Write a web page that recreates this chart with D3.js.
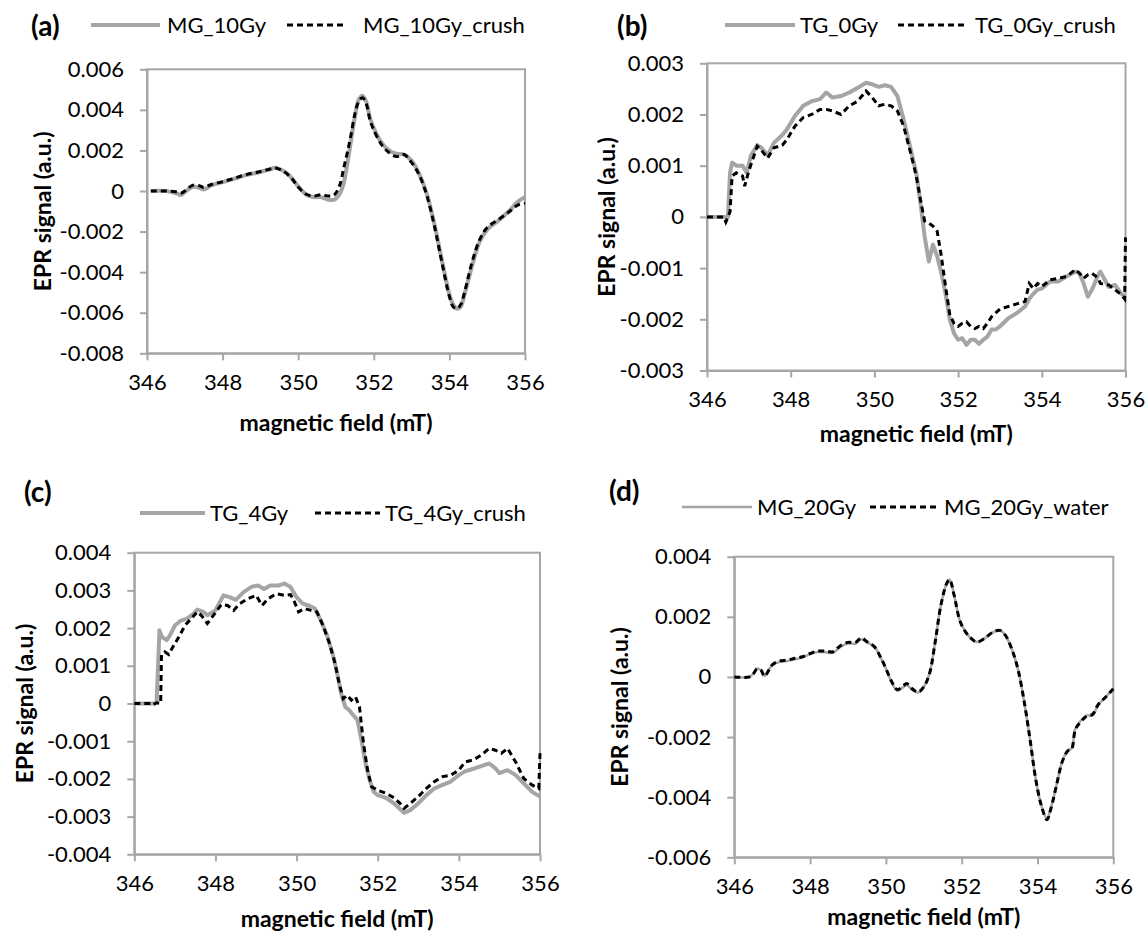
<!DOCTYPE html>
<html lang="en">
<head>
<meta charset="utf-8" />
<title>EPR spectra – crushed / water treated samples</title>
<script src="https://cdn.jsdelivr.net/npm/d3@7"></script>
<style>
  body { margin: 0; background: #fff; }
  svg  { display: block; }
  text { font-family: Lato, "Open Sans", sans-serif; fill: #000; }
  .frame { fill: none; stroke: #a6a6a6; stroke-width: 2; }
  .axis path, .axis line { stroke: #a6a6a6; stroke-width: 2; }
  .axis text { font-size: 22px; }
  .ttl { font-size: 23px; font-weight: bold; }
  .letter { font-size: 28px; font-weight: bold; }
  .leg { font-size: 22px; }
  .gray { fill: none; stroke: #a5a5a5; stroke-linejoin: round; }
  .dash { fill: none; stroke: #000; stroke-width: 3; stroke-dasharray: 6 4; }
</style>
</head>
<body>
<svg id="fig" width="1145" height="935"></svg>
<script>
// ---- data: [field (mT), EPR signal (a.u.)] ----
const mg10Gy = [[346.1,0],[346.5,0],[346.8,-0.00013],[346.9,-0.0002],[347.0,-0.00005],[347.2,0.0002],[347.4,0.00015],[347.5,0.00007],[347.7,0.00028],[348.0,0.00044],[348.3,0.0006],[348.6,0.00077],[349.0,0.00094],[349.3,0.0011],[349.4,0.00115],[349.6,0.001],[349.8,0.0007],[350.0,0.00023],[350.2,-0.00016],[350.4,-0.0003],[350.6,-0.0003],[350.8,-0.00043],[350.95,-0.00043],[351.1,-0.00013],[351.2,0.00036],[351.3,0.00135],[351.4,0.0025],[351.5,0.00365],[351.6,0.0045],[351.7,0.0047],[351.8,0.0044],[351.9,0.0036],[352.0,0.0031],[352.2,0.0024],[352.4,0.002],[352.6,0.00184],[352.8,0.0018],[353.0,0.0015],[353.2,0.00085],[353.4,-0.00013],[353.6,-0.0016],[353.8,-0.0034],[354.0,-0.0051],[354.1,-0.0056],[354.2,-0.0058],[354.3,-0.0057],[354.4,-0.0051],[354.6,-0.0037],[354.8,-0.0025],[355.0,-0.0019],[355.3,-0.00145],[355.6,-0.00095],[355.8,-0.00054],[356.0,-0.0003]];
const mg10GyCrush = [[346.1,0],[346.5,0],[346.8,-0.00005],[346.9,-0.0001],[347.0,0],[347.2,0.00028],[347.4,0.00025],[347.5,0.00018],[347.7,0.00032],[348.0,0.00046],[348.3,0.00062],[348.6,0.0008],[349.0,0.00096],[349.3,0.0011],[349.4,0.00113],[349.6,0.00098],[349.8,0.00068],[350.0,0.0002],[350.2,-0.00015],[350.4,-0.00025],[350.6,-0.00018],[350.8,-0.00025],[350.95,-0.0002],[351.1,0.0003],[351.2,0.0011],[351.3,0.0019],[351.4,0.0028],[351.5,0.0038],[351.6,0.0044],[351.7,0.0046],[351.8,0.0043],[351.9,0.0035],[352.0,0.003],[352.2,0.0023],[352.4,0.0019],[352.6,0.0017],[352.8,0.0018],[353.0,0.0014],[353.2,0.0008],[353.4,-0.0002],[353.6,-0.0017],[353.8,-0.0035],[354.0,-0.0052],[354.1,-0.0057],[354.2,-0.0058],[354.3,-0.0056],[354.4,-0.005],[354.6,-0.0035],[354.8,-0.0024],[355.0,-0.0018],[355.3,-0.0014],[355.6,-0.001],[355.8,-0.0007],[356.0,-0.0006]];

const tg0Gy = [[346.0,0],[346.5,0],[346.55,0.00086],[346.6,0.00106],[346.7,0.001],[346.85,0.001],[346.95,0.00086],[347.05,0.0012],[347.2,0.0014],[347.3,0.00135],[347.45,0.0012],[347.6,0.00145],[347.8,0.0016],[347.9,0.0017],[348.1,0.00197],[348.3,0.00217],[348.5,0.00226],[348.7,0.0023],[348.85,0.00243],[349.0,0.00233],[349.2,0.00236],[349.4,0.00243],[349.6,0.00252],[349.8,0.00262],[349.95,0.00259],[350.1,0.00254],[350.25,0.00257],[350.4,0.00254],[350.55,0.00236],[350.7,0.0019],[350.85,0.00138],[351.0,0.00086],[351.1,0.00027],[351.2,-0.00038],[351.3,-0.00087],[351.4,-0.00054],[351.5,-0.00077],[351.6,-0.0011],[351.7,-0.0015],[351.8,-0.002],[351.9,-0.00227],[352.0,-0.0024],[352.1,-0.00237],[352.2,-0.0025],[352.3,-0.0024],[352.4,-0.0024],[352.5,-0.00248],[352.6,-0.0024],[352.7,-0.00234],[352.8,-0.0022],[352.9,-0.0022],[353.0,-0.00214],[353.2,-0.00198],[353.4,-0.00188],[353.6,-0.00175],[353.7,-0.0016],[353.8,-0.0015],[353.9,-0.00142],[354.0,-0.0014],[354.2,-0.00126],[354.4,-0.00126],[354.6,-0.00116],[354.8,-0.00107],[354.9,-0.0011],[355.0,-0.0013],[355.1,-0.00156],[355.2,-0.00142],[355.35,-0.00113],[355.4,-0.00107],[355.6,-0.00137],[355.75,-0.00133],[355.9,-0.0015],[356.0,-0.00156]];
const tg0GyCrush = [[346.0,0],[346.4,0],[346.45,-0.0001],[346.55,0.0001],[346.6,0.0008],[346.7,0.00086],[346.85,0.0008],[346.9,0.0006],[347.0,0.0009],[347.2,0.00138],[347.3,0.0013],[347.45,0.00115],[347.6,0.00135],[347.8,0.0014],[347.9,0.0015],[348.1,0.00177],[348.3,0.00194],[348.5,0.002],[348.7,0.0021],[348.85,0.0021],[349.0,0.00207],[349.2,0.002],[349.4,0.00217],[349.6,0.00226],[349.8,0.00246],[349.95,0.00233],[350.1,0.00217],[350.25,0.0022],[350.4,0.00217],[350.55,0.00207],[350.7,0.00177],[350.85,0.0013],[351.0,0.0008],[351.1,0.00034],[351.2,-0.00008],[351.3,-0.00012],[351.4,-0.00018],[351.5,-0.00028],[351.6,-0.00077],[351.7,-0.00136],[351.8,-0.0019],[351.9,-0.00208],[352.0,-0.00214],[352.1,-0.00208],[352.2,-0.00205],[352.3,-0.00214],[352.4,-0.00218],[352.5,-0.00214],[352.6,-0.00218],[352.7,-0.00208],[352.8,-0.00195],[353.0,-0.0018],[353.2,-0.00175],[353.4,-0.0017],[353.6,-0.00165],[353.7,-0.0013],[353.8,-0.0014],[353.9,-0.0013],[354.0,-0.00136],[354.2,-0.00123],[354.4,-0.0012],[354.6,-0.00116],[354.8,-0.00103],[354.9,-0.0011],[355.0,-0.0012],[355.1,-0.00113],[355.2,-0.0011],[355.35,-0.0012],[355.4,-0.0013],[355.6,-0.00133],[355.75,-0.00142],[355.9,-0.00152],[355.98,-0.0016],[356.0,-0.0004]];

const tg4Gy = [[346.0,0],[346.5,0],[346.55,0.00004],[346.62,0.00194],[346.68,0.00177],[346.8,0.00168],[346.9,0.00185],[347.0,0.00207],[347.15,0.0022],[347.3,0.00225],[347.45,0.00237],[347.55,0.00249],[347.7,0.00243],[347.8,0.00234],[348.0,0.00247],[348.2,0.00287],[348.35,0.00282],[348.5,0.00275],[348.7,0.00296],[348.9,0.0031],[349.05,0.00313],[349.2,0.00304],[349.35,0.00313],[349.55,0.00313],[349.7,0.00318],[349.85,0.00309],[350.0,0.00282],[350.15,0.00265],[350.3,0.0026],[350.45,0.00252],[350.6,0.0022],[350.75,0.00181],[350.9,0.00128],[351.0,0.0008],[351.1,0.00026],[351.2,-0.00009],[351.3,-0.00018],[351.4,-0.00031],[351.5,-0.00044],[351.6,-0.00097],[351.7,-0.00159],[351.8,-0.00203],[351.9,-0.00234],[352.0,-0.00243],[352.2,-0.0025],[352.4,-0.00265],[352.55,-0.0028],[352.65,-0.0029],[352.8,-0.00283],[353.0,-0.00265],[353.2,-0.00243],[353.4,-0.00225],[353.6,-0.00216],[353.8,-0.00207],[354.0,-0.0019],[354.15,-0.0018],[354.3,-0.00175],[354.5,-0.00168],[354.75,-0.00159],[354.9,-0.00172],[355.0,-0.00185],[355.2,-0.00177],[355.4,-0.0019],[355.6,-0.00212],[355.8,-0.00234],[356.0,-0.00247]];
const tg4GyCrush = [[346.0,0],[346.4,0],[346.45,-0.00004],[346.55,0.00002],[346.65,0],[346.67,0.0013],[346.75,0.00137],[346.85,0.0013],[346.95,0.0015],[347.1,0.00177],[347.25,0.00207],[347.4,0.00225],[347.55,0.00243],[347.65,0.00234],[347.8,0.00212],[347.95,0.00234],[348.15,0.00263],[348.3,0.0026],[348.45,0.00247],[348.6,0.00265],[348.8,0.00278],[349.0,0.00287],[349.15,0.0026],[349.3,0.00278],[349.5,0.00291],[349.7,0.00287],[349.85,0.00289],[349.95,0.00269],[350.05,0.00243],[350.2,0.00252],[350.35,0.00247],[350.5,0.00243],[350.65,0.00207],[350.8,0.00163],[350.95,0.00106],[351.05,0.00053],[351.15,0.00013],[351.25,0.00022],[351.35,0.00009],[351.45,0.00018],[351.55,-0.00009],[351.65,-0.00106],[351.75,-0.00177],[351.85,-0.00221],[352.0,-0.0023],[352.2,-0.00238],[352.4,-0.0025],[352.55,-0.00265],[352.65,-0.00278],[352.8,-0.00265],[353.0,-0.00247],[353.2,-0.00225],[353.4,-0.00207],[353.6,-0.00194],[353.8,-0.0019],[354.0,-0.00177],[354.15,-0.00155],[354.35,-0.0015],[354.55,-0.00137],[354.75,-0.00119],[354.9,-0.00124],[355.05,-0.00132],[355.2,-0.00119],[355.4,-0.00155],[355.6,-0.00199],[355.8,-0.00216],[355.97,-0.00225],[356.0,-0.00132]];

const mg20Gy = [[346.0,0],[346.4,0],[346.5,0.00011],[346.6,0.00028],[346.7,0.00022],[346.8,0.00003],[346.9,0.00022],[347.0,0.00039],[347.2,0.0005],[347.4,0.00053],[347.6,0.00059],[347.8,0.00065],[348.0,0.00076],[348.2,0.00083],[348.4,0.00082],[348.6,0.0008],[348.8,0.001],[349.0,0.00111],[349.2,0.00111],[349.35,0.00125],[349.5,0.00115],[349.7,0.001],[349.85,0.00067],[350.0,0.00028],[350.15,-0.00017],[350.3,-0.00046],[350.45,-0.00035],[350.55,-0.00028],[350.7,-0.00043],[350.85,-0.00052],[351.0,-0.00033],[351.15,0.00011],[351.3,0.00116],[351.45,0.00238],[351.6,0.0031],[351.68,0.00324],[351.8,0.00272],[351.95,0.00188],[352.1,0.0015],[352.25,0.00128],[352.4,0.00116],[352.6,0.00128],[352.8,0.00147],[353.0,0.00155],[353.15,0.00139],[353.35,0.00083],[353.5,0.00017],[353.65,-0.00083],[353.8,-0.00205],[353.95,-0.00338],[354.1,-0.00427],[354.25,-0.00471],[354.35,-0.00438],[354.5,-0.00361],[354.65,-0.00283],[354.8,-0.00244],[354.9,-0.00238],[355.0,-0.00172],[355.15,-0.00144],[355.3,-0.00128],[355.45,-0.00128],[355.6,-0.00094],[355.8,-0.00067],[356.0,-0.00039]];
const mg20GyWater = [[346.0,0],[346.4,0],[346.5,0.0001],[346.6,0.00026],[346.7,0.00023],[346.8,0.00002],[346.9,0.0002],[347.0,0.0004],[347.2,0.00053],[347.4,0.00056],[347.6,0.00062],[347.8,0.00067],[348.0,0.00078],[348.2,0.00086],[348.4,0.00086],[348.6,0.00084],[348.8,0.00104],[349.0,0.00115],[349.2,0.00115],[349.35,0.0013],[349.5,0.00117],[349.7,0.001],[349.85,0.00068],[350.0,0.00028],[350.15,-0.00015],[350.3,-0.00042],[350.45,-0.0003],[350.55,-0.00022],[350.7,-0.0004],[350.85,-0.0005],[351.0,-0.00033],[351.15,0.00011],[351.3,0.00116],[351.45,0.00238],[351.6,0.0031],[351.68,0.00324],[351.8,0.00272],[351.95,0.00188],[352.1,0.0015],[352.25,0.00128],[352.4,0.00116],[352.6,0.00128],[352.8,0.00147],[353.0,0.00155],[353.15,0.00139],[353.35,0.00083],[353.5,0.00017],[353.65,-0.00083],[353.8,-0.00205],[353.95,-0.00338],[354.1,-0.00427],[354.25,-0.00475],[354.35,-0.0044],[354.5,-0.00361],[354.65,-0.00283],[354.8,-0.00246],[354.9,-0.0024],[355.0,-0.00175],[355.15,-0.00148],[355.3,-0.0013],[355.45,-0.00125],[355.6,-0.00092],[355.8,-0.00067],[356.0,-0.00039]];

const xTicks = [346, 348, 350, 352, 354, 356];

// ---- layout for the four panels ----
const panels = [
  { letter: "(a)", lx: 31, ly: 36,
    box: { l: 147, r: 525, t: 69.3, b: 353.3 },
    yTicks: [-8, -6, -4, -2, 0, 2, 4, 6], curve: d3.curveCatmullRom, grayW: 4,
    names: ["MG_10Gy", "MG_10Gy_crush"], series: [mg10Gy, mg10GyCrush],
    leg: { y: 25, ty: 33, g: [91, 160], gt: 167, d: [287, 347], dt: 363 },
    yTitleX: 43, xTitleY: 423 },
  { letter: "(b)", lx: 617, ly: 36,
    box: { l: 707, r: 1125.5, t: 63.3, b: 370.5 },
    yTicks: [-3, -2, -1, 0, 1, 2, 3], curve: d3.curveLinear, grayW: 4,
    names: ["TG_0Gy", "TG_0Gy_crush"], series: [tg0Gy, tg0GyCrush],
    leg: { y: 25, ty: 33, g: [725, 795], gt: 800, d: [898, 968], dt: 975 },
    yTitleX: 607, xTitleY: 434 },
  { letter: "(c)", lx: 24, ly: 502,
    box: { l: 134.3, r: 540, t: 552.7, b: 854.3 },
    yTicks: [-4, -3, -2, -1, 0, 1, 2, 3, 4], curve: d3.curveLinear, grayW: 4,
    names: ["TG_4Gy", "TG_4Gy_crush"], series: [tg4Gy, tg4GyCrush],
    leg: { y: 513, ty: 521, g: [140, 205], gt: 210, d: [315, 380], dt: 385 },
    yTitleX: 25, xTitleY: 919 },
  { letter: "(d)", lx: 609, ly: 501,
    box: { l: 734.3, r: 1113.3, t: 556.7, b: 857.3 },
    yTicks: [-6, -4, -2, 0, 2, 4], curve: d3.curveCatmullRom, grayW: 2.5,
    names: ["MG_20Gy", "MG_20Gy_water"], series: [mg20Gy, mg20GyWater],
    leg: { y: 507, ty: 515, g: [682, 752], gt: 757, d: [870, 938], dt: 944 },
    yTitleX: 620, xTitleY: 917 }
];

const svg = d3.select("#fig");
const fmt = v => v === 0 ? "0" : v.toFixed(3);

panels.forEach(p => {
  const B = p.box;
  const x = d3.scaleLinear().domain([346, 356]).range([B.l, B.r]);
  const yv = p.yTicks.map(t => t / 1000);
  const y = d3.scaleLinear().domain([d3.min(yv), d3.max(yv)]).range([B.b, B.t]);
  const g = svg.append("g");

  // plot-area border
  g.append("rect").attr("class", "frame")
    .attr("x", B.l).attr("y", B.t).attr("width", B.r - B.l).attr("height", B.b - B.t);

  g.append("g").attr("class", "axis").attr("transform", `translate(${B.l},0)`)
    .call(d3.axisLeft(y).tickValues(yv).tickFormat(fmt).tickSize(7).tickSizeOuter(0).tickPadding(16));
  g.append("g").attr("class", "axis").attr("transform", `translate(0,${B.b})`)
    .call(d3.axisBottom(x).tickValues(xTicks).tickFormat(d3.format("d")).tickSize(7).tickSizeOuter(0).tickPadding(14));

  const line = d3.line().x(d => x(d[0])).y(d => y(d[1])).curve(p.curve);
  g.append("path").attr("class", "gray").attr("stroke-width", p.grayW).attr("d", line(p.series[0]));
  g.append("path").attr("class", "dash").attr("d", line(p.series[1]));

  // axis titles
  g.append("text").attr("class", "ttl").attr("text-anchor", "middle")
    .attr("x", (B.l + B.r) / 2).attr("y", p.xTitleY).attr("dy", "0.35em").text("magnetic field (mT)");
  g.append("text").attr("class", "ttl").attr("text-anchor", "middle")
    .attr("transform", `translate(${p.yTitleX},${(B.t + B.b) / 2}) rotate(-90)`)
    .attr("dy", "0.35em").text("EPR signal (a.u.)");

  // panel letter + legend
  g.append("text").attr("class", "letter").attr("x", p.lx).attr("y", p.ly).text(p.letter);
  const L = p.leg;
  g.append("line").attr("class", "gray").attr("stroke-width", p.grayW)
    .attr("x1", L.g[0]).attr("x2", L.g[1]).attr("y1", L.y).attr("y2", L.y);
  g.append("text").attr("class", "leg").attr("x", L.gt).attr("y", L.ty).text(p.names[0]);
  g.append("line").attr("class", "dash")
    .attr("x1", L.d[0]).attr("x2", L.d[1]).attr("y1", L.y).attr("y2", L.y);
  g.append("text").attr("class", "leg").attr("x", L.dt).attr("y", L.ty).text(p.names[1]);
});
</script>
</body>
</html>
